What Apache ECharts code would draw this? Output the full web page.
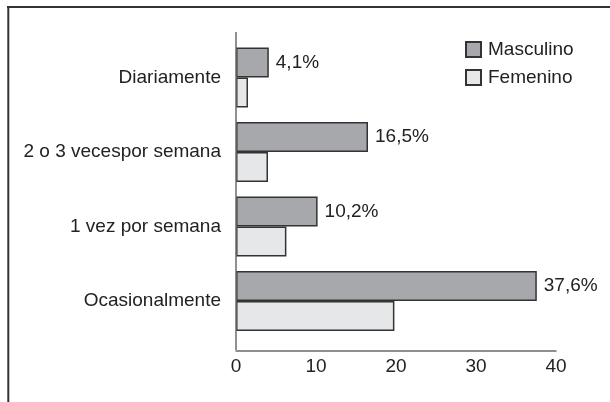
<!DOCTYPE html>
<html>
<head>
<meta charset="utf-8">
<script src="https://cdn.jsdelivr.net/npm/echarts@6/dist/echarts.min.js"></script>
<style>html,body{margin:0;padding:0;background:#fff;}#c{width:610px;height:402px;}</style>
</head>
<body>
<div id="c"></div>
<script>
var categories = ['Diariamente', '2 o 3 vecespor semana', '1 vez por semana', 'Ocasionalmente'];
var masculino = [4.1, 16.5, 10.2, 37.6];
var femenino = [1.5, 4.0, 6.3, 19.8];
var xTicks = [0, 10, 20, 30, 40];

var chart = echarts.init(document.getElementById('c'), null, {renderer: 'canvas'});
var font = '"Liberation Sans", Arial, sans-serif';
var fs = 19;
chart.setOption({
  animation: false,
  backgroundColor: '#fff',
  textStyle: {fontFamily: font},
  grid: {left: 236, right: 54, top: 40.25, height: 298},
  legend: {
    orient: 'vertical', left: 460, top: 35,
    itemWidth: 15, itemHeight: 15, itemGap: 9,
    icon: 'rect',
    textStyle: {fontSize: fs, color: '#222', fontFamily: font, padding: [0, 0, 0, 2]},
    data: ['Masculino', 'Femenino']
  },
  xAxis: {
    type: 'value', min: xTicks[0], max: xTicks[xTicks.length - 1], interval: 10,
    offset: 12,
    axisLine: {show: true, lineStyle: {color: '#6b6b6b', width: 1.5}},
    axisTick: {show: false},
    splitLine: {show: false},
    axisLabel: {fontSize: fs, color: '#222', margin: 7, fontFamily: font}
  },
  yAxis: {
    type: 'category', data: categories, inverse: true,
    axisLine: {show: false},
    axisTick: {show: false},
    axisLabel: {fontSize: fs, color: '#222', margin: 15, fontFamily: font, padding: [0, 0, 6, 0]}
  },
  graphic: [
    {type: 'line', shape: {x1: 236, y1: 32, x2: 236, y2: 350}, style: {stroke: '#6b6b6b', lineWidth: 1.5}, z: 10},
    {type: 'line', shape: {x1: 7, y1: 7, x2: 610, y2: 7}, style: {stroke: '#333', lineWidth: 2}},
    {type: 'line', shape: {x1: 8.3, y1: 6, x2: 8.3, y2: 402}, style: {stroke: '#333', lineWidth: 2}}
  ],
  series: [
    {
      name: 'Masculino', type: 'bar', data: masculino,
      barWidth: 30, barGap: '0%',
      itemStyle: {color: '#a7a8ab', borderColor: '#333', borderWidth: 1.5},
      label: {
        show: true, position: 'right', distance: 7, fontSize: fs, color: '#222', fontFamily: font,
        formatter: function (p) { return String(p.value).replace('.', ',') + '%'; }
      }
    },
    {
      name: 'Femenino', type: 'bar', data: femenino,
      barWidth: 30,
      itemStyle: {color: '#e6e7e8', borderColor: '#333', borderWidth: 1.5}
    }
  ]
});
</script>
</body>
</html>
